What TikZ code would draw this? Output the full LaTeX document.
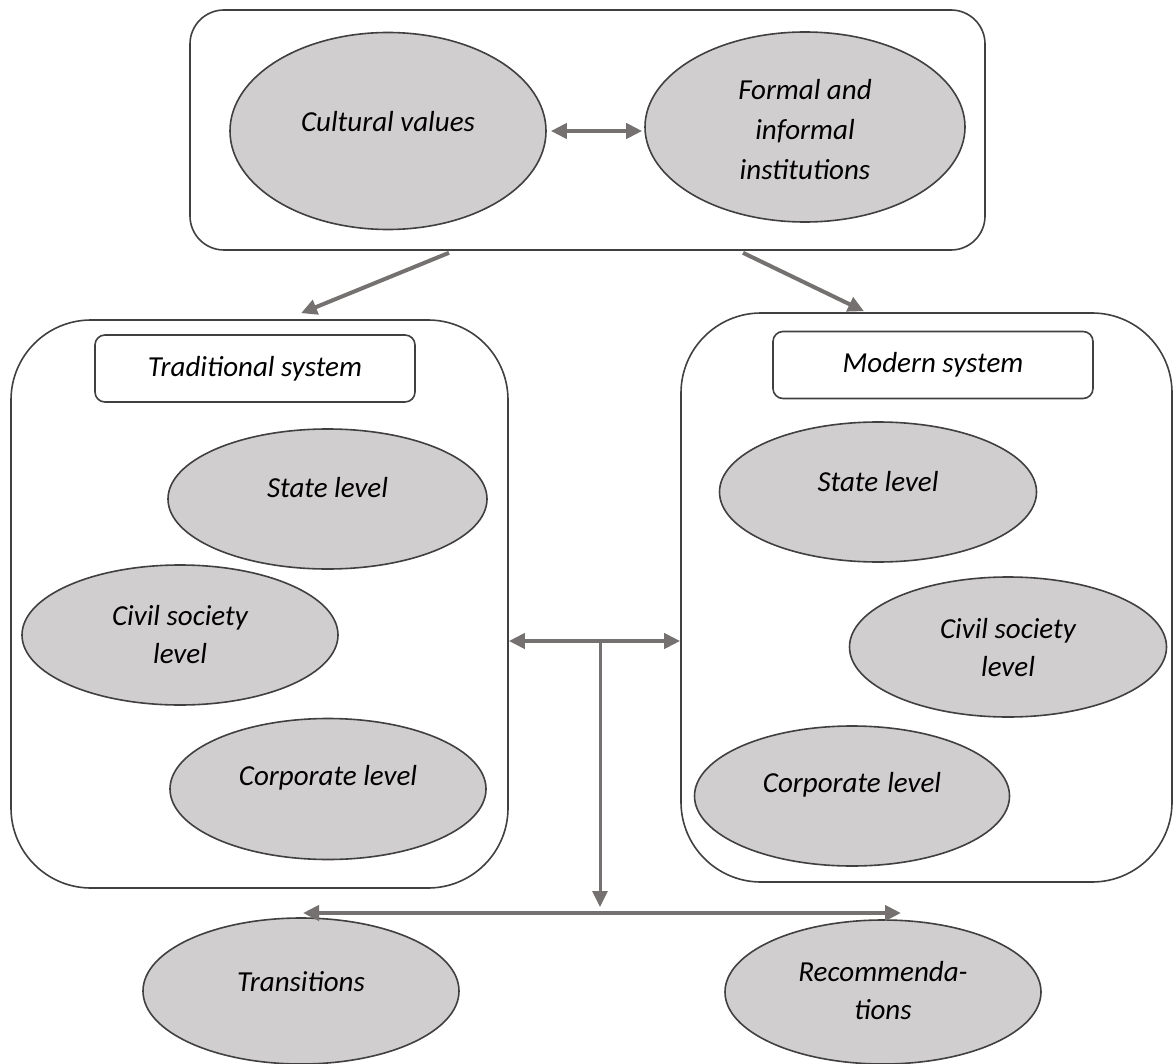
\documentclass[tikz,border=0pt]{standalone}
\usepackage{fontspec}
\setmainfont{Carlito}
\usetikzlibrary{shapes.geometric,arrows.meta}
\definecolor{ellfill}{HTML}{D0CECE}
\definecolor{edgec}{HTML}{404040}
\definecolor{arrc}{HTML}{767171}
\begin{document}
\begin{tikzpicture}[x=1pt,y=-1pt,
  ell/.style={ellipse, draw=edgec, line width=1.6pt, fill=ellfill, inner sep=0pt},
  txt/.style={font=\fontsize{29}{38}\selectfont\itshape, align=center, text=black, inner sep=0pt},
  bigbox/.style={draw=edgec, line width=1.6pt, rounded corners=80pt, inner sep=0pt},
  titlebox/.style={draw=edgec, line width=1.6pt, rounded corners=10pt, inner sep=0pt,
    font=\fontsize{29}{38}\selectfont\itshape, minimum width=320pt, minimum height=67pt},
  arr/.style={draw=arrc, line width=4pt, -{Triangle[length=16pt,width=15pt]}},
  darr/.style={draw=arrc, line width=4pt, {Triangle[length=16pt,width=15pt]}-{Triangle[length=16pt,width=15pt]}},
]
\useasboundingbox (0,0) rectangle (1174,1064);

% top group
\node[bigbox, rounded corners=34pt, minimum width=795pt, minimum height=240pt] (top) at (587.5,130) {};
\node[ell, minimum width=316pt, minimum height=197pt] (cv) at (388,131) {};
\node[txt] (cvt) at (388,122) {Cultural values};
\node[ell, minimum width=320pt, minimum height=190pt] (fi) at (805,127) {};
\node[txt, font=\fontsize{29}{40}\selectfont\itshape] (fit) at (805,130) {Formal and\\informal\\institutions};
\draw[darr, shorten <=4pt, shorten >=2pt] (cv.east) -- (cv.east -| fi.west);

% traditional system
\node[bigbox, minimum width=497pt, minimum height=568pt] (lbox) at (259.5,604) {};
\node[titlebox] (trad) at (255,368.5) {Traditional system};
\node[ell, minimum width=319pt, minimum height=140pt] (sl) at (327.5,499) {};
\node[txt] (slt) at (327.5,488) {State level};
\node[ell, minimum width=316pt, minimum height=140pt] (cl) at (180,635) {};
\node[txt] (clt) at (180,635) {Civil society\\level};
\node[ell, minimum width=316pt, minimum height=141pt] (col) at (328,789) {};
\node[txt] (colt) at (328,778) {Corporate level};

% modern system
\node[bigbox, minimum width=491pt, minimum height=569pt] (rbox) at (926.5,597.5) {};
\node[titlebox] (mod) at (933,365) {Modern system};
\node[ell, minimum width=317pt, minimum height=140pt] (sr) at (878,492) {};
\node[txt] (srt) at (878,482) {State level};
\node[ell, minimum width=317pt, minimum height=140pt] (cr) at (1008,647) {};
\node[txt] (crt) at (1008,648) {Civil society\\level};
\node[ell, minimum width=315pt, minimum height=140pt] (cor) at (852,796) {};
\node[txt] (cort) at (852,785) {Corporate level};

% bottom
\node[ell, minimum width=316pt, minimum height=146pt] (tr) at (301,991) {};
\node[txt] (trt) at (301,982) {Transitions};
\node[ell, minimum width=316pt, minimum height=144pt] (rec) at (883,992) {};
\node[txt] (rect) at (883,991) {Recommenda-\\tions};

% connectors
\draw[arr] ([xshift=-138.5pt,yshift=-2pt]top.south) -- ([xshift=41.5pt,yshift=6pt]lbox.north);
\draw[arr] ([xshift=155.5pt,yshift=-2pt]top.south) -- ([xshift=-62.5pt,yshift=1pt]rbox.north);

\coordinate (mC) at (600,641);
\coordinate (bC) at (600,913);
\coordinate (bL) at (303,913);
\coordinate (bR) at (901,913);
\draw[darr] (lbox.east |- mC) -- (rbox.west |- mC);
\draw[arr, line width=3pt] (mC) -- ([yshift=6pt]bC);
\draw[darr] (bL) -- (bR);
\end{tikzpicture}
\end{document}
